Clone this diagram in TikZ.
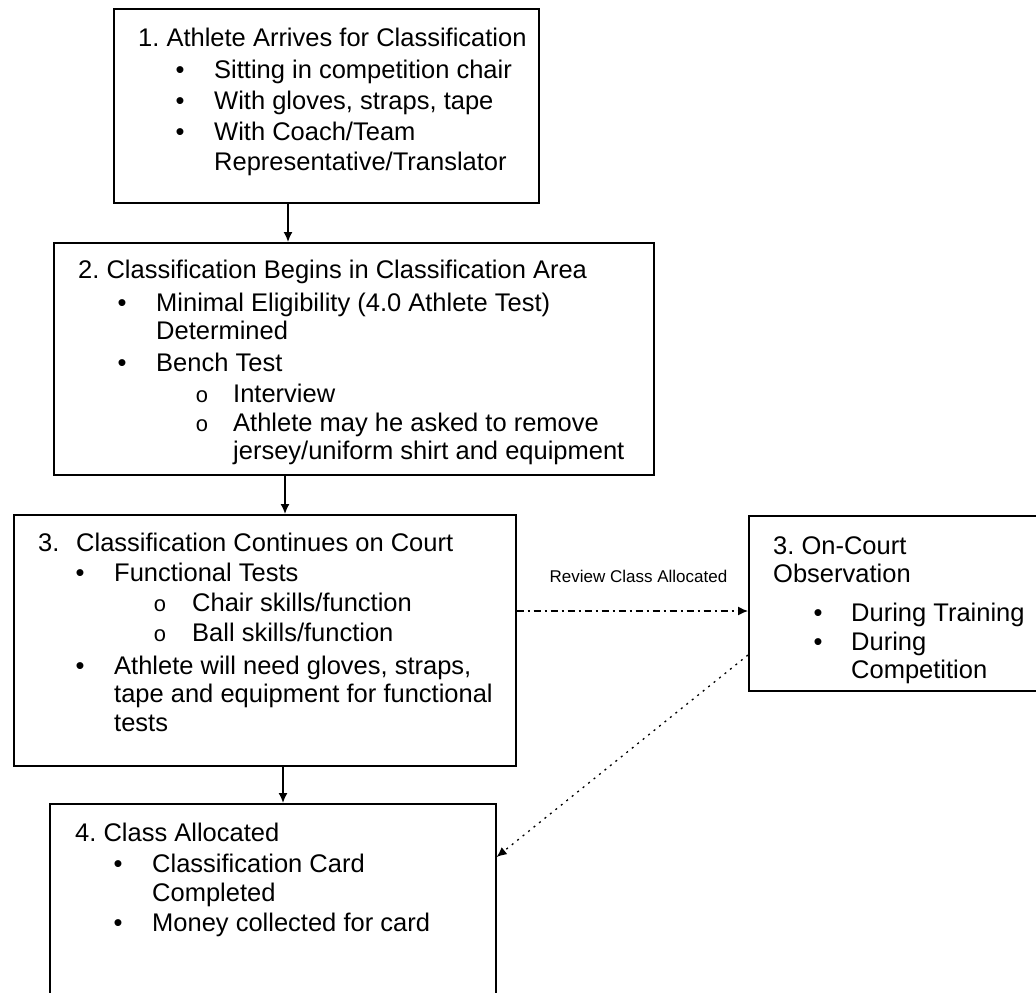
\documentclass[tikz,border=0pt]{standalone}
\usepackage{fontspec}
\setmainfont{Liberation Sans}
\setmonofont{Liberation Mono}
\usetikzlibrary{arrows.meta}
\begin{document}
\frenchspacing
\begin{tikzpicture}[x=1pt,y=-1pt,
  box/.style={draw, line width=1.6pt, inner sep=0pt, rectangle, anchor=north west},
  txt/.style={anchor=base west, inner sep=0pt, font=\fontsize{25.5}{30}\selectfont},
  bul/.style={anchor=base, inner sep=0pt, font=\fontsize{25.5}{30}\selectfont},
  subbul/.style={anchor=base, inner sep=0pt, font=\fontsize{22}{30}\ttfamily},
  arr/.style={line width=1.6pt, -{Latex[length=10pt,width=9pt]}},
  dasharr/.style={line width=1.3pt, dash pattern=on 7pt off 4pt on 2pt off 4pt, -{Latex[length=10pt,width=9pt]}},
  dotarr/.style={line width=1.3pt, dash pattern=on 2pt off 5pt, -{Latex[length=10pt,width=9pt]}},
  lab/.style={anchor=base, inner sep=0pt, font=\fontsize{17}{20}\selectfont}]
\useasboundingbox (0,0) rectangle (1036,993);
\clip (0,0) rectangle (1036,993);

% boxes
\node[box, minimum width=425pt, minimum height=194pt] (b1) at (113,8) {};
\node[box, minimum width=600pt, minimum height=232pt] (b2) at (53,242) {};
\node[box, minimum width=502pt, minimum height=251pt] (b3) at (13,514) {};
\node[box, minimum width=446pt, minimum height=220pt] (b4) at (49,803) {};
\node[box, minimum width=320pt, minimum height=175pt] (b5) at (748,515) {};

% box 1 text
\node[txt] (t1a) at (138,46) {1. Athlete Arrives for Classification};
\node[bul] (t1b1) at (180,78) {•};
\node[txt] (t1b) at (214,78) {Sitting in competition chair};
\node[bul] (t1c1) at (180,109) {•};
\node[txt] (t1c) at (214,109) {With gloves, straps, tape};
\node[bul] (t1d1) at (180,140) {•};
\node[txt] (t1d) at (214,140) {With Coach/Team};
\node[txt] (t1e) at (214,170) {Representative/Translator};

% box 2 text
\node[txt] (t2a) at (78,278) {2. Classification Begins in Classification Area};
\node[bul] (t2b1) at (122,311) {•};
\node[txt] (t2b) at (156,311) {Minimal Eligibility (4.0 Athlete Test)};
\node[txt] (t2c) at (156,339) {Determined};
\node[bul] (t2d1) at (122,371) {•};
\node[txt] (t2d) at (156,371) {Bench Test};
\node[subbul] (t2e1) at (202,402) {o};
\node[txt] (t2e) at (233,402) {Interview};
\node[subbul] (t2f1) at (202,431) {o};
\node[txt] (t2f) at (233,431) {Athlete may he asked to remove};
\node[txt] (t2g) at (233,459) {jersey/uniform shirt and equipment};

% box 3 text
\node[txt] (t3n) at (38,551) {3.};
\node[txt] (t3a) at (76,551) {Classification Continues on Court};
\node[bul] (t3b1) at (80,581) {•};
\node[txt] (t3b) at (114,581) {Functional Tests};
\node[subbul] (t3c1) at (160,611) {o};
\node[txt] (t3c) at (192,611) {Chair skills/function};
\node[subbul] (t3d1) at (160,641) {o};
\node[txt] (t3d) at (192,641) {Ball skills/function};
\node[bul] (t3e1) at (80,674) {•};
\node[txt] (t3e) at (114,674) {Athlete will need gloves, straps,};
\node[txt] (t3f) at (114,702) {tape and equipment for functional};
\node[txt] (t3g) at (114,731) {tests};

% box 4 text
\node[txt] (t4a) at (75,841) {4. Class Allocated};
\node[bul] (t4b1) at (118,872) {•};
\node[txt] (t4b) at (152,872) {Classification Card};
\node[txt] (t4c) at (152,901) {Completed};
\node[bul] (t4d1) at (118,931) {•};
\node[txt] (t4d) at (152,931) {Money collected for card};

% box 5 text
\node[txt] (t5a) at (773,554) {3. On-Court};
\node[txt] (t5b) at (773,582) {Observation};
\node[bul] (t5c1) at (818,621) {•};
\node[txt] (t5c) at (851,621) {During Training};
\node[bul] (t5d1) at (818,650) {•};
\node[txt] (t5d) at (851,650) {During};
\node[txt] (t5e) at (851,678) {Competition};

% connectors
\draw[arr] (b1.south -| 288,0) -- (b2.north -| 288,0);
\draw[arr] (b2.south -| 285,0) -- (b3.north -| 285,0);
\draw[arr] (b3.south -| 283,0) -- (b4.north -| 283,0);
\draw[dasharr] (b3.east |- 0,611) -- (b5.west |- 0,611);
\node[lab] (rl) at (638.5,582) {Review Class Allocated};
\draw[dotarr] (b5.west |- 0,655) -- (b4.east |- 0,857);
\end{tikzpicture}
\end{document}
